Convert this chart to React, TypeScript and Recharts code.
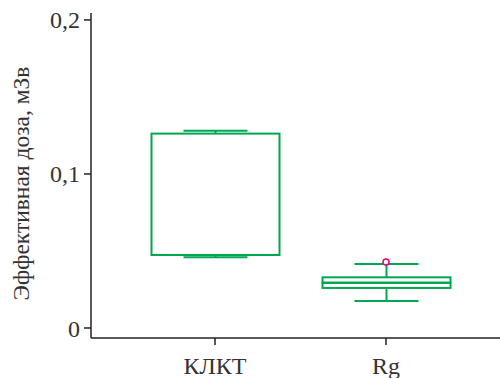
import React from 'react';
import { ComposedChart, Bar, Scatter, XAxis, YAxis } from 'recharts';

const categories = ['КЛКТ', 'Rg'];
const minValues = [0.0459, 0.0175];
const q1Values = [0.0474, 0.026];
const medianValues = [0.0474, 0.0294];
const q3Values = [0.1262, 0.0329];
const maxValues = [0.1281, 0.0416];
const outliers: (number | null)[] = [null, 0.0429];
const yTicks = [0, 0.1, 0.2];

const GREEN = '#00a651';
const PINK = '#e6007e';
const FONT = 'Liberation Serif';
const TEXT = '#333';

const data = categories.map((name, i) => ({
  name,
  base: minValues[i],
  lowWhisker: q1Values[i] - minValues[i],
  boxLow: medianValues[i] - q1Values[i],
  boxHigh: q3Values[i] - medianValues[i],
  highWhisker: maxValues[i] - q3Values[i],
  outlier: outliers[i],
}));

const Empty = () => null;

const LowWhisker = (props: any) => {
  const { x, y, width, height } = props;
  const cx = x + width / 2;
  const cap = width / 4;
  return (
    <g stroke={GREEN} strokeWidth={2}>
      <line x1={cx} x2={cx} y1={y} y2={y + height} />
      <line x1={cx - cap} x2={cx + cap} y1={y + height} y2={y + height} />
    </g>
  );
};

const HighWhisker = (props: any) => {
  const { x, y, width, height } = props;
  const cx = x + width / 2;
  const cap = width / 4;
  return (
    <g stroke={GREEN} strokeWidth={2}>
      <line x1={cx} x2={cx} y1={y} y2={y + height} />
      <line x1={cx - cap} x2={cx + cap} y1={y} y2={y} />
    </g>
  );
};

const BoxPart = (props: any) => {
  const { x, y, width, height } = props;
  return <rect x={x} y={y} width={width} height={height} fill="#fff" stroke={GREEN} strokeWidth={2} />;
};

const BoxTop = (props: any) => {
  const { x, y, width, height } = props;
  return (
    <g>
      <rect x={x} y={y} width={width} height={height} fill="#fff" stroke={GREEN} strokeWidth={2} />
      <line x1={x} x2={x + width} y1={y + height} y2={y + height} stroke={GREEN} strokeWidth={2} />
    </g>
  );
};

const Outlier = (props: any) => {
  const { cx, cy } = props;
  if (cx == null || cy == null) return null;
  return <circle cx={cx} cy={cy} r={3} fill="#fff" stroke={PINK} strokeWidth={1.5} />;
};

const YLabel = (props: any) => {
  const { x, y, height } = props.viewBox;
  const cx = x + 21;
  const cy = y + height / 2 + 8;
  return (
    <text
      x={cx}
      y={cy}
      transform={`rotate(-90 ${cx} ${cy})`}
      textAnchor="middle"
      dominantBaseline="central"
      fontFamily={FONT}
      fontSize={23.5}
      fill={TEXT}
    >
      Эффективная доза, мЗв
    </text>
  );
};

export default function App() {
  return (
    <div style={{ position: 'absolute', left: 0, top: 0, background: '#fff' }}>
      <ComposedChart
        width={500}
        height={378}
        data={data}
        margin={{ top: 13, right: 0, bottom: 0, left: 0 }}
        barSize={128}
      >
        <XAxis
          dataKey="name"
          type="category"
          padding={{ left: 38.5, right: 28.5 }}
          tickSize={7}
          tickMargin={12}
          stroke="#222"
          strokeWidth={1.5}
          tick={{ fill: TEXT, fontSize: 24, fontFamily: FONT }}
          height={40}
        />
        <YAxis
          width={91}
          type="number"
          domain={[-0.0065, 0.2045]}
          allowDataOverflow
          ticks={yTicks}
          tickFormatter={(v: number) => String(v).replace('.', ',')}
          tickSize={7}
          tickMargin={4}
          stroke="#222"
          strokeWidth={1.5}
          tick={{ fill: TEXT, fontSize: 24, fontFamily: FONT }}
          label={<YLabel />}
        />
        <Bar dataKey="base" stackId="box" shape={<Empty />} isAnimationActive={false} />
        <Bar dataKey="lowWhisker" stackId="box" shape={<LowWhisker />} isAnimationActive={false} />
        <Bar dataKey="boxLow" stackId="box" shape={<BoxPart />} isAnimationActive={false} />
        <Bar dataKey="boxHigh" stackId="box" shape={<BoxTop />} isAnimationActive={false} />
        <Bar dataKey="highWhisker" stackId="box" shape={<HighWhisker />} isAnimationActive={false} />
        <Scatter dataKey="outlier" shape={<Outlier />} isAnimationActive={false} />
      </ComposedChart>
    </div>
  );
}
